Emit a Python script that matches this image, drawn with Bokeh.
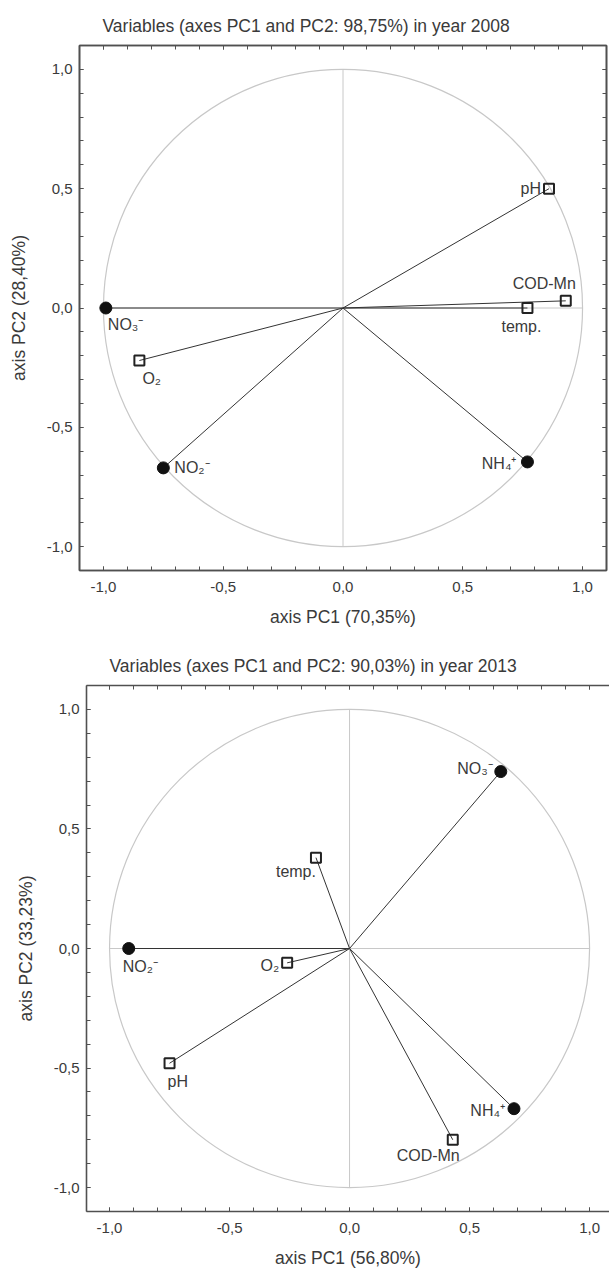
from bokeh.plotting import figure
from bokeh.layouts import column, row
from bokeh.models import (ColumnDataSource, Range1d, LinearAxis, SingleIntervalTicker,
                          CustomJSTickFormatter, Spacer)
from bokeh.core.properties import value
from bokeh.embed import file_html
from bokeh.resources import INLINE

# ---------------- data ----------------
vars_2008 = ["pH", "COD-Mn", "temp.", "NO₃⁻", "O₂", "NO₂⁻", "NH₄⁺"]
pc1_2008 = [0.86, 0.93, 0.77, -0.99, -0.85, -0.75, 0.77]
pc2_2008 = [0.50, 0.03, 0.00, 0.00, -0.22, -0.67, -0.645]
kind_2008 = ["square", "square", "square", "circle", "square", "circle", "circle"]

vars_2013 = ["NO₃⁻", "temp.", "NO₂⁻", "O₂", "pH", "NH₄⁺", "COD-Mn"]
pc1_2013 = [0.63, -0.14, -0.92, -0.26, -0.75, 0.685, 0.43]
pc2_2013 = [0.74, 0.38, 0.00, -0.06, -0.48, -0.67, -0.80]
kind_2013 = ["circle", "square", "circle", "square", "square", "circle", "square"]

titles = ["Variables (axes PC1 and PC2: 98,75%) in year 2008",
          "Variables (axes PC1 and PC2: 90,03%) in year 2013"]
xlabels = ["axis PC1 (70,35%)", "axis PC1 (56,80%)"]
ylabels = ["axis PC2 (28,40%)", "axis PC2 (33,23%)"]

# ---------------- label placement (styles) ----------------
lab_2008_align = ["right", "right", "center", "left", "left", "left", "right"]
lab_2008_dx = [-8, 10, -6, 2, 3, 11, -11]
lab_2008_dy = [0, -17, 18, 16, 18, 0, 2]

lab_2013_align = ["right", "right", "left", "right", "left", "right", "right"]
lab_2013_dx = [-8, 0, -6, -8, -2, -9, 7]
lab_2013_dy = [-3, 14, 18, 3, 18, 2, 16]

FONT = "Liberation Sans"
TXT = "#3a3a3a"
FRAME = "#505050"
GRID = "#c8c8c8"


def style_axis(ax, labels=True, standoff=7):
    ax.ticker = SingleIntervalTicker(interval=0.5, num_minor_ticks=5)
    if labels:
        ax.formatter = CustomJSTickFormatter(code="return tick.toFixed(1).replace('.', ',');")
        ax.major_label_text_color = TXT
        ax.major_label_standoff = standoff
    else:
        ax.formatter = CustomJSTickFormatter(code="return '';")
        ax.major_label_text_color = None
        ax.major_label_standoff = 0
    ax.axis_line_color = FRAME
    ax.axis_line_width = 1.6
    ax.major_tick_line_color = FRAME
    ax.minor_tick_line_color = FRAME
    ax.major_tick_in = 4
    ax.major_tick_out = 0
    ax.minor_tick_in = 4
    ax.minor_tick_out = 0
    ax.major_label_text_font = FONT
    ax.major_label_text_font_size = "15px"
    ax.axis_label_text_font = FONT
    ax.axis_label_text_font_size = "17.5px"
    ax.axis_label_text_font_style = "normal"
    ax.axis_label_text_color = TXT


def panel(title, xlabel, ylabel, names, xs, ys, kinds, align, dx, dy,
          width, height, xr, mb, right_axis):
    p = figure(width=width, height=height, output_backend="svg", toolbar_location=None,
               x_range=Range1d(*xr), y_range=Range1d(-1.1, 1.1),
               min_border_left=mb[0], min_border_right=mb[1],
               min_border_top=mb[2], min_border_bottom=mb[3],
               x_axis_label=xlabel, y_axis_label=ylabel)
    p.grid.visible = False
    if right_axis:
        p.outline_line_color = FRAME
        p.outline_line_width = 1.6
    else:
        p.outline_line_color = None
        p.outline_line_alpha = 0
    p.background_fill_color = "white"
    p.border_fill_color = "white"

    p.title.text = title
    p.title.text_font = FONT
    p.title.text_font_size = "17.5px"
    p.title.text_font_style = "normal"
    p.title.text_color = TXT
    p.title.align = "left"
    p.title.offset = 23
    p.title.standoff = 19

    for ax in p.xaxis:
        style_axis(ax, standoff=11)
        ax.axis_label_standoff = 12
    for ax in p.yaxis:
        style_axis(ax, standoff=7)
        ax.axis_label_standoff = 15

    top = LinearAxis()
    style_axis(top, labels=False)
    p.add_layout(top, "above")
    if right_axis:
        r = LinearAxis()
        style_axis(r, labels=False)
        p.add_layout(r, "right")

    # unit circle and cross
    p.ellipse(x=[0], y=[0], width=[2], height=[2], fill_color=None,
              line_color=GRID, line_width=1.2)
    p.segment(x0=[-1, 0], y0=[0, -1], x1=[1, 0], y1=[0, 1], line_color=GRID, line_width=1)

    src = ColumnDataSource(dict(x=xs, y=ys, name=names, align=align, dx=dx, dy=dy,
                                x0=[0] * len(xs), y0=[0] * len(xs)))
    p.segment(x0="x0", y0="y0", x1="x", y1="y", source=src, line_color="#333333", line_width=1)

    ci = [i for i, k in enumerate(kinds) if k == "circle"]
    sq = [i for i, k in enumerate(kinds) if k == "square"]
    p.scatter([xs[i] for i in ci], [ys[i] for i in ci], marker="circle", size=12,
              fill_color="#111111", line_color="#111111")
    p.scatter([xs[i] for i in sq], [ys[i] for i in sq], marker="square", size=10,
              fill_color="white", fill_alpha=0, line_color="#222222", line_width=2)

    p.text(x="x", y="y", text="name", source=src, text_align="align",
           x_offset="dx", y_offset="dy", text_baseline="middle",
           text_font=value(FONT), text_font_size="16px", text_color=TXT)
    return p


p1 = panel(titles[0], xlabels[0], ylabels[0], vars_2008, pc1_2008, pc2_2008, kind_2008,
           lab_2008_align, lab_2008_dx, lab_2008_dy,
           609, 640, (-1.1, 1.1), (79, 3, 45, 70), True)
p2 = panel(titles[1], xlabels[1], ylabels[1], vars_2013, pc1_2013, pc2_2013, kind_2013,
           lab_2013_align, lab_2013_dx, lab_2013_dy,
           602, 630, (-1.096, 1.083), (79, 0, 45, 59), False)

layout = column(p1, row(Spacer(width=7, height=630), p2))
open("out.html", "w").write(file_html(layout, INLINE))
